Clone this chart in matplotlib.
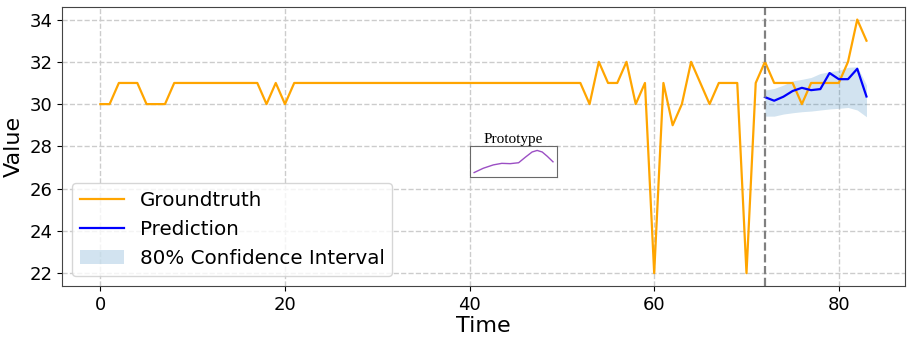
import matplotlib.pyplot as plt
import numpy as np

# groundtruth series (t = 0..83)
groundtruth = [30, 30, 31, 31, 31, 30, 30, 30, 31, 31,
               31, 31, 31, 31, 31, 31, 31, 31, 30, 31,
               30, 31, 31, 31, 31, 31, 31, 31, 31, 31,
               31, 31, 31, 31, 31, 31, 31, 31, 31, 31,
               31, 31, 31, 31, 31, 31, 31, 31, 31, 31,
               31, 31, 31, 30, 32, 31, 31, 32, 30, 31,
               22, 31, 29, 30, 32, 31, 30, 31, 31, 31,
               22, 31, 32, 31, 31, 31, 30, 31, 31, 31,
               31, 32, 34, 33]

# prediction starts at t = 72
pred_start = 72
prediction = [30.33, 30.16, 30.35, 30.62, 30.77, 30.66, 30.71, 31.47,
              31.18, 31.18, 31.67, 30.36]
ci_lower = [29.43, 29.43, 29.53, 29.59, 29.64, 29.67, 29.72, 29.77,
            29.80, 29.84, 29.72, 29.40]
ci_upper = [30.66, 30.74, 30.90, 31.10, 31.17, 31.26, 31.45, 31.53,
            31.60, 31.74, 31.77, 30.90]

# prototype shape shown in the inset
proto_x = [73, 100, 130, 155, 180, 205, 225, 245, 260, 275, 290, 307]
proto_y = [0.14, 0.28, 0.39, 0.44, 0.43, 0.46, 0.64, 0.81, 0.86, 0.81, 0.67, 0.49]

t = np.arange(len(groundtruth))
t_pred = np.arange(pred_start, pred_start + len(prediction))

fig = plt.figure(figsize=(9.13, 3.44), dpi=100)
ax = fig.add_axes([0.068, 0.169, 0.923, 0.811])

ax.plot(t, groundtruth, color='orange', lw=1.6, label='Groundtruth')
ax.plot(t_pred, prediction, color='blue', lw=1.6, label='Prediction')
ax.fill_between(t_pred, ci_lower, ci_upper, color='#1f77b4', alpha=0.2,
                linewidth=0, label='80% Confidence Interval')
ax.axvline(pred_start, color='gray', ls='--', lw=1.6)

ax.grid(True, ls='--', color='#cccccc', lw=1)
ax.set_axisbelow(True)
ax.set_xticks([0, 20, 40, 60, 80])
ax.set_yticks(range(22, 35, 2))
ax.tick_params(labelsize=13)
ax.set_xlabel('Time', fontsize=16, labelpad=2)
ax.set_ylabel('Value', fontsize=16)
for s in ax.spines.values():
    s.set_color('#444444')
ax.legend(loc='lower left', fontsize=14.3, handlelength=2.2)

# inset with the prototype
ins = fig.add_axes([0.515, 0.4855, 0.095, 0.09])
ins.plot(proto_x, proto_y, color='#9b4fc4', lw=1)
ins.margins(x=0.05, y=0.2)
ins.set_xticks([])
ins.set_yticks([])
for s in ins.spines.values():
    s.set_color('dimgray')
ins.set_title('Prototype', fontsize=11, family='Liberation Serif', pad=2)

fig.savefig('out.png', dpi=100)
